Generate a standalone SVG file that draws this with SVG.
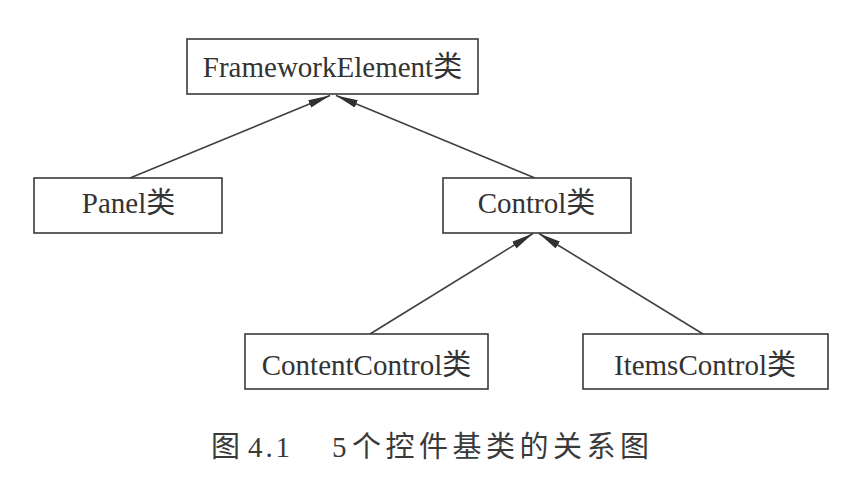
<svg xmlns="http://www.w3.org/2000/svg" width="849" height="482" viewBox="0 0 849 482">
  <style>
    .box { fill: #ffffff; stroke: #3a3a3a; stroke-width: 1.6; }
    .lbl { font-family: "Liberation Serif", "Noto Sans CJK SC", serif; font-size: 29px; fill: #333333; text-anchor: middle; }
    .conn { stroke: #404040; stroke-width: 1.6; fill: none; marker-end: url(#arrow); }
    .cap { font-family: "Liberation Serif", "Noto Sans CJK SC", serif; font-size: 29px; fill: #3a3a3a; }
  </style>
  <defs>
    <marker id="arrow" markerUnits="userSpaceOnUse" markerWidth="24" markerHeight="10" refX="22" refY="4" orient="auto">
      <path d="M0,0 L22,4 L0,8 z" fill="#303030"/>
    </marker>
  </defs>
  <rect width="849" height="482" fill="#ffffff"/>

  <g id="connectors">
    <line class="conn" x1="130" y1="178" x2="330" y2="95.5"/>
    <line class="conn" x1="535" y1="178" x2="336" y2="95.5"/>
    <line class="conn" x1="370" y1="334" x2="533" y2="233.5"/>
    <line class="conn" x1="703" y1="334" x2="539" y2="233.5"/>
  </g>

  <g id="node-frameworkelement">
    <rect class="box" x="187" y="39" width="291" height="55"/>
    <text class="lbl" x="332.5" y="77">FrameworkElement类</text>
  </g>
  <g id="node-panel">
    <rect class="box" x="34" y="178" width="188" height="55"/>
    <text class="lbl" x="128.5" y="213">Panel类</text>
  </g>
  <g id="node-control">
    <rect class="box" x="443" y="178" width="188" height="55"/>
    <text class="lbl" x="536.5" y="213">Control类</text>
  </g>
  <g id="node-contentcontrol">
    <rect class="box" x="245" y="334" width="243" height="55"/>
    <text class="lbl" x="366.5" y="375">ContentControl类</text>
  </g>
  <g id="node-itemscontrol">
    <rect class="box" x="583" y="334" width="245" height="55"/>
    <text class="lbl" x="705" y="375">ItemsControl类</text>
  </g>

  <g id="caption">
    <text class="cap" x="211" y="457">图</text>
    <text class="cap" x="248" y="457" textLength="42" lengthAdjust="spacing">4.1</text>
    <text class="cap" x="332" y="457">5</text>
    <text class="cap" x="352" y="457" textLength="297" lengthAdjust="spacing">个控件基类的关系图</text>
  </g>
</svg>
